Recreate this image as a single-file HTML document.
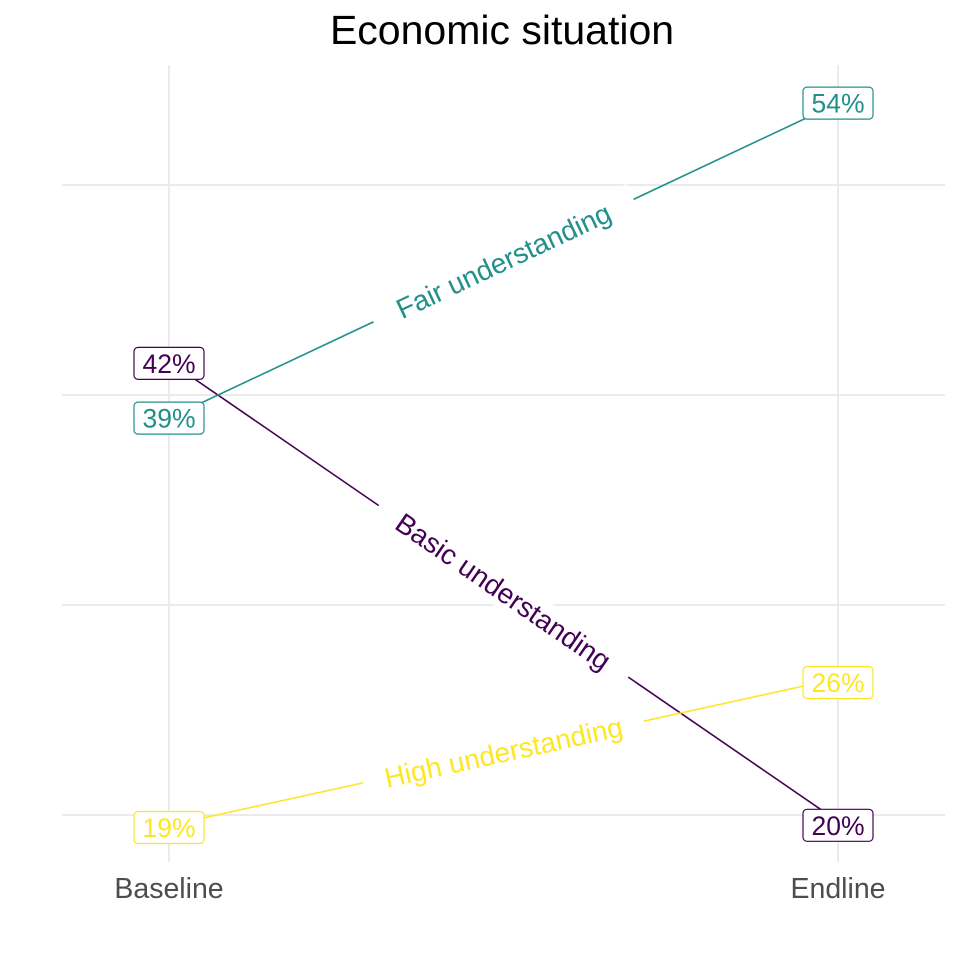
<!DOCTYPE html>
<html><head><meta charset="utf-8"><style>
body{margin:0;background:#fff}
svg{display:block;font-family:"Liberation Sans",sans-serif}
</style></head><body>
<svg id="c" width="960" height="960">
<rect width="960" height="960" fill="#fff"/>
<text x="502" y="44" text-anchor="middle" font-size="41" fill="#000">Economic situation</text>
<g id="grid"></g><g id="lines"></g><g id="labs"></g>
</svg>
<script>
const categories = ["Baseline", "Endline"];
const seriesNames = ["Basic understanding", "Fair understanding", "High understanding"];
const basicValues = [41.6, 19.7];
const fairValues = [38.9, 53.9];
const highValues = [19.5, 26.5];
const labelTexts = [["42%", "20%"], ["39%", "54%"], ["19%", "26%"]];
const yTicks = [20, 30, 40, 50];

const colors = ["#440154", "#21908C", "#FDE725"];
const NS = "http://www.w3.org/2000/svg";
const xPos = i => 169 + i * 669;
const y = v => 815 - (v - 20) * 21;
function mk(tag, attrs, parent) {
  const e = document.createElementNS(NS, tag);
  for (const k in attrs) e.setAttribute(k, attrs[k]);
  parent.appendChild(e); return e;
}
const grid = document.getElementById("grid"), lines = document.getElementById("lines"), labs = document.getElementById("labs");
yTicks.forEach(t => {
  const l = mk("line", {x1: 62, x2: 945, y1: y(t), y2: y(t), stroke: "#ebebeb", "stroke-width": 2}, grid);
  
  
});
categories.forEach((c, i) => {
  const l = mk("line", {x1: xPos(i), x2: xPos(i), y1: 65, y2: 862, stroke: "#ebebeb", "stroke-width": 2}, grid);
  
  
  const t = mk("text", {x: xPos(i), y: 898, "text-anchor": "middle", "font-size": 28.5, fill: "#4d4d4d"}, grid);
  t.textContent = c;
  
  
});
const all = [basicValues, fairValues, highValues];
all.forEach((vals, s) => {
  const x1 = xPos(0), y1 = y(vals[0]), x2 = xPos(1), y2 = y(vals[1]);
  const ln = mk("line", {x1, y1, x2, y2, stroke: colors[s], "stroke-width": 1.6}, lines);
  
  
  const mx = (x1 + x2) / 2, my = (y1 + y2) / 2;
  const ang = Math.atan2(y2 - y1, x2 - x1) * 180 / Math.PI;
  const g = mk("g", {transform: `translate(${mx},${my}) rotate(${ang})`}, lines);
  
  
  const w = seriesNames[s].length * 15.3 + 12;
  mk("rect", {x: -w / 2, y: -17, width: w, height: 34, fill: "#fff"}, g);
  const t = mk("text", {x: 0, y: 10, "text-anchor": "middle", "font-size": 28, fill: colors[s]}, g);
  t.textContent = seriesNames[s];
  vals.forEach((v, i) => {
    const lg = mk("g", {}, labs);
    
    
    const cy = y(v) + (s === 0 && i === 0 ? 2 : 0) + (i === 1 && s !== 1 ? 4 : 0) + (s === 2 && i === 0 ? 2 : 0);
    mk("rect", {x: xPos(i) - 35, y: cy - 16, width: 70, height: 32, rx: 4, fill: "#fff", stroke: colors[s], "stroke-width": 1.2}, lg);
    const tt = mk("text", {x: xPos(i), y: cy + 9.5, "text-anchor": "middle", "font-size": 26.5, fill: colors[s]}, lg);
    tt.textContent = labelTexts[s][i];
  });
});
</script>
</body></html>
